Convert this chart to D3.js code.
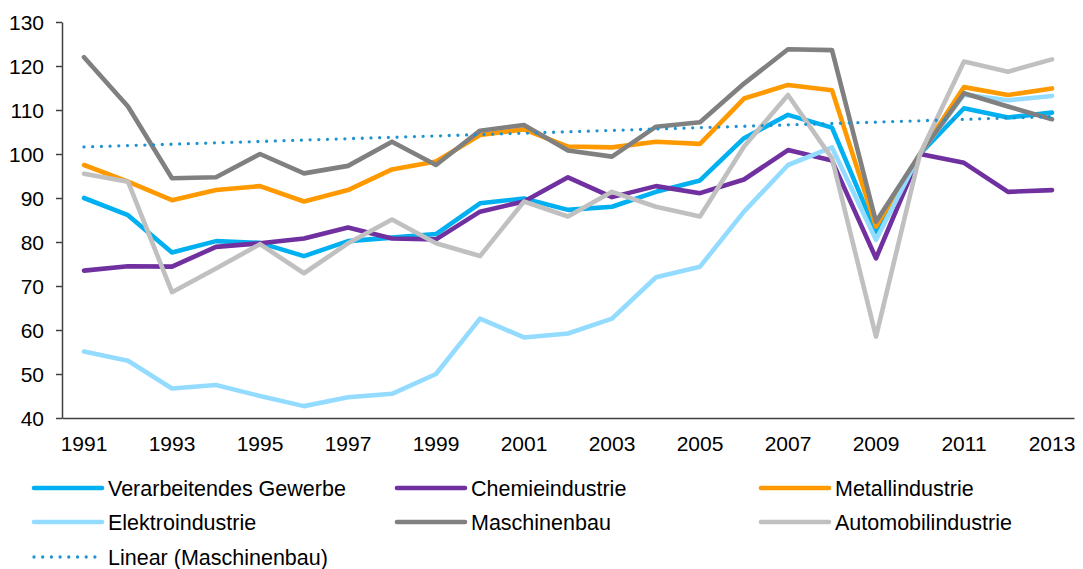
<!DOCTYPE html>
<html>
<head>
<meta charset="utf-8">
<script src="https://cdn.jsdelivr.net/npm/d3@7"></script>
<style>
  body { margin: 0; background: #fff; }
  text { font-family: "Liberation Sans", Arial, sans-serif; fill: #000; }
</style>
</head>
<body>
<div class="chart"></div>
<script>
//Years on the x axis
const years = d3.range(1991, 2014);
const yearTicks = [1991, 1993, 1995, 1997, 1999, 2001, 2003, 2005, 2007, 2009, 2011, 2013];
const yTicks = [40, 50, 60, 70, 80, 90, 100, 110, 120, 130];

//Index values per industry (2010 = 100)
const verarbeitendesGewerbe = [90, 86.1, 77.6, 80.2, 79.8, 76.8, 80.2, 81, 81.8, 88.8, 89.9, 87.3, 88, 91.4, 94, 103.6, 108.9, 106, 82.3, 100, 110.4, 108.3, 109.4];
const chemieindustrie = [73.5, 74.5, 74.4, 78.9, 79.7, 80.8, 83.3, 80.8, 80.6, 86.9, 89.2, 94.7, 90.2, 92.7, 91.1, 94.2, 100.9, 98.5, 76.3, 100, 98, 91.4, 91.8];
const metallindustrie = [97.5, 93.7, 89.5, 91.8, 92.7, 89.2, 91.8, 96.5, 98.3, 104.3, 105.6, 101.7, 101.5, 102.8, 102.3, 112.6, 115.7, 114.5, 83.5, 100, 115.2, 113.4, 114.9];
const elektroindustrie = [55.1, 53, 46.7, 47.5, 45, 42.7, 44.7, 45.5, 50, 62.6, 58.3, 59.2, 62.6, 72, 74.4, 86.9, 97.5, 101.5, 80.5, 100, 113.5, 112.2, 113.2];
const maschinenbau = [122, 110.8, 94.5, 94.7, 100, 95.6, 97.3, 102.8, 97.5, 105.3, 106.6, 100.8, 99.4, 106.2, 107.2, 116, 123.8, 123.6, 84.6, 100, 113.8, 110.8, 107.9];
const automobilindustrie = [95.5, 93.7, 68.6, 74, 79.5, 72.9, 79.7, 85.1, 79.7, 76.8, 89.2, 85.8, 91.4, 88, 85.8, 101.7, 113.4, 99, 58.5, 100, 121, 118.7, 121.5];

//Trend line (Linear Maschinenbau), start and end value
const trendYears = [1991, 2013];
const trendValues = [101.6, 108.5];

const seriesNames = ["Verarbeitendes Gewerbe", "Chemieindustrie", "Metallindustrie", "Elektroindustrie", "Maschinenbau", "Automobilindustrie"];
const seriesColors = ["#00b0f0", "#7030a0", "#ff9900", "#93dcff", "#808080", "#c0c0c0"];
const seriesValues = [verarbeitendesGewerbe, chemieindustrie, metallindustrie, elektroindustrie, maschinenbau, automobilindustrie];
const trendName = "Linear (Maschinenbau)";
const trendColor = "#1e93d0";

const width = 1083;
const height = 569;
const plotLeft = 62, plotRight = 1074, plotTop = 22, plotBottom = 418;

const svg = d3.select(".chart").append("svg")
  .attr("width", width)
  .attr("height", height);

//Scales setup
const xscale = d3.scaleBand().domain(years).range([plotLeft, plotRight]).padding(0);
const xpos = (year) => xscale(year) + xscale.bandwidth() / 2;
const yscale = d3.scaleLinear().domain([40, 130]).range([plotBottom, plotTop]);

//Y axis
const g_yaxis = svg.append("g")
  .attr("transform", `translate(${plotLeft},0)`)
  .call(d3.axisLeft(yscale).tickValues(yTicks).tickSize(6).tickSizeOuter(0).tickPadding(12));
g_yaxis.selectAll("text").style("font-size", "21px").attr("dy", "0.35em");

//X axis, no tick marks
const g_xaxis = svg.append("g")
  .attr("transform", `translate(0,${plotBottom})`)
  .call(d3.axisBottom(xscale).tickValues(yearTicks).tickSize(0).tickSizeOuter(0).tickPadding(18));
g_xaxis.selectAll("text").style("font-size", "21px");

svg.selectAll(".domain, .tick line").attr("stroke", "#404040").attr("stroke-width", 1.5);

//Lines
const line = d3.line()
  .x((d, i) => xpos(years[i]))
  .y((d) => yscale(d));

svg.append("g").selectAll("path")
  .data(seriesValues)
  .join("path")
    .attr("d", (d) => line(d))
    .attr("fill", "none")
    .attr("stroke", (d, i) => seriesColors[i])
    .attr("stroke-width", 4.6)
    .attr("stroke-linejoin", "round")
    .attr("stroke-linecap", "round");

//Dotted trend line
const trendLine = d3.line()
  .x((d, i) => xpos(trendYears[i]))
  .y((d) => yscale(d));

svg.append("path")
  .attr("d", trendLine(trendValues))
  .attr("fill", "none")
  .attr("stroke", trendColor)
  .attr("stroke-width", 3.3)
  .attr("stroke-linecap", "round")
  .attr("stroke-dasharray", "0 8.7");

//Legend
const legendCols = [34, 397, 761];
const legendRows = [488, 522, 557];
const legendItems = seriesNames.map((name, i) => ({ name: name, color: seriesColors[i], dotted: false }));
legendItems.push({ name: trendName, color: trendColor, dotted: true });

const legend = svg.append("g").selectAll("g")
  .data(legendItems)
  .join("g")
    .attr("transform", (d, i) => `translate(${legendCols[i % 3]},${legendRows[Math.floor(i / 3)]})`);

legend.append("line")
  .attr("x1", 0)
  .attr("x2", (d) => d.dotted ? 62 : 68)
  .attr("stroke", (d) => d.color)
  .attr("stroke-width", (d) => d.dotted ? 3.3 : 4.6)
  .attr("stroke-linecap", "round")
  .attr("stroke-dasharray", (d) => d.dotted ? "0 8.7" : null);

legend.append("text")
  .attr("x", 74)
  .attr("dy", "0.35em")
  .style("font-size", "21.5px")
  .text((d) => d.name);
</script>
</body>
</html>
